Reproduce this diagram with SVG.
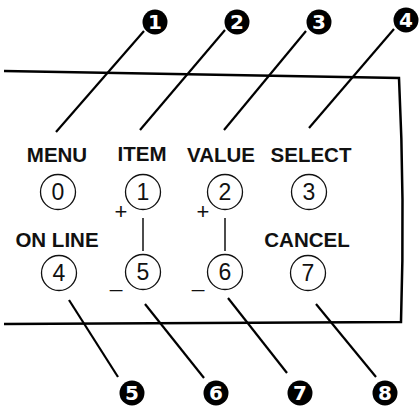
<svg xmlns="http://www.w3.org/2000/svg" width="419" height="411" viewBox="0 0 419 411">
<style>
.lbl{font-family:"Liberation Sans",Arial,sans-serif;font-weight:bold;font-size:20.5px;fill:#111;text-anchor:middle}
.btn{fill:#fff;stroke:#111;stroke-width:1.3}
.dig{font-family:"Liberation Sans",Arial,sans-serif;font-size:23px;fill:#111;text-anchor:middle}
.co{fill:#000}
.cot{font-family:"DejaVu Sans",sans-serif;font-weight:bold;font-size:20px;fill:#fff;text-anchor:middle}
.ld{stroke:#000;stroke-width:2.2;fill:none}
.pm{font-family:"Liberation Sans",Arial,sans-serif;font-size:22px;fill:#111;text-anchor:middle}
</style>
<rect width="419" height="411" fill="#fff"/>
<g id="panel">
<path d="M4,71 L399,78 Q405,200 401,322 L4,324" fill="none" stroke="#000" stroke-width="2.5"/>
</g>
<g id="connectors">
<line class="ld" x1="144" y1="31" x2="56" y2="132"/>
<line class="ld" x1="225" y1="30" x2="140" y2="130"/>
<line class="ld" x1="306" y1="31" x2="224" y2="130"/>
<line class="ld" x1="394" y1="29" x2="309" y2="128"/>
<line class="ld" x1="69" y1="300" x2="118" y2="377"/>
<line class="ld" x1="145" y1="304" x2="204" y2="378"/>
<line class="ld" x1="228" y1="298" x2="287" y2="373"/>
<line class="ld" x1="316" y1="304" x2="376" y2="377"/>
<line x1="143" y1="218" x2="143" y2="251" stroke="#111" stroke-width="1.5"/>
<line x1="225" y1="218" x2="225" y2="251" stroke="#111" stroke-width="1.5"/>
</g>
<g id="labels">
<text class="lbl" x="57" y="162">MENU</text>
<text class="lbl" x="142" y="161">ITEM</text>
<text class="lbl" x="221" y="162">VALUE</text>
<text class="lbl" x="311" y="162">SELECT</text>
<text class="lbl" x="57" y="247">ON LINE</text>
<text class="lbl" x="307" y="247">CANCEL</text>
</g>
<g id="btn0"><circle class="btn" cx="58" cy="192" r="17.5"/><text class="dig" x="58" y="200">0</text></g>
<g id="btn1"><circle class="btn" cx="143" cy="192" r="17.5"/><text class="dig" x="143" y="200">1</text></g>
<g id="btn2"><circle class="btn" cx="225" cy="192" r="17.5"/><text class="dig" x="225" y="200">2</text></g>
<g id="btn3"><circle class="btn" cx="309" cy="192" r="17.5"/><text class="dig" x="309" y="200">3</text></g>
<g id="btn4"><circle class="btn" cx="59" cy="273" r="17.5"/><text class="dig" x="59" y="281">4</text></g>
<g id="btn5"><circle class="btn" cx="143" cy="272" r="17.5"/><text class="dig" x="143" y="280">5</text></g>
<g id="btn6"><circle class="btn" cx="225" cy="272" r="17.5"/><text class="dig" x="225" y="280">6</text></g>
<g id="btn7"><circle class="btn" cx="308" cy="273" r="17.5"/><text class="dig" x="308" y="281">7</text></g>
<g id="signs">
<text class="pm" x="121" y="219">+</text>
<text class="pm" x="203" y="219">+</text>
<text class="pm" x="116" y="287">_</text>
<text class="pm" x="198" y="287">_</text>
</g>
<g id="callout1"><circle class="co" cx="155" cy="22" r="12.5"/><text class="cot" x="155" y="29">1</text></g>
<g id="callout2"><circle class="co" cx="237" cy="22" r="12.5"/><text class="cot" x="237" y="29">2</text></g>
<g id="callout3"><circle class="co" cx="319" cy="22" r="12.5"/><text class="cot" x="319" y="29">3</text></g>
<g id="callout4"><circle class="co" cx="406" cy="20" r="12.5"/><text class="cot" x="406" y="27">4</text></g>
<g id="callout5"><circle class="co" cx="132" cy="393" r="12.5"/><text class="cot" x="132" y="400">5</text></g>
<g id="callout6"><circle class="co" cx="216" cy="393" r="12.5"/><text class="cot" x="216" y="400">6</text></g>
<g id="callout7"><circle class="co" cx="300" cy="393" r="12.5"/><text class="cot" x="300" y="400">7</text></g>
<g id="callout8"><circle class="co" cx="385" cy="393" r="12.5"/><text class="cot" x="385" y="400">8</text></g>
</svg>
